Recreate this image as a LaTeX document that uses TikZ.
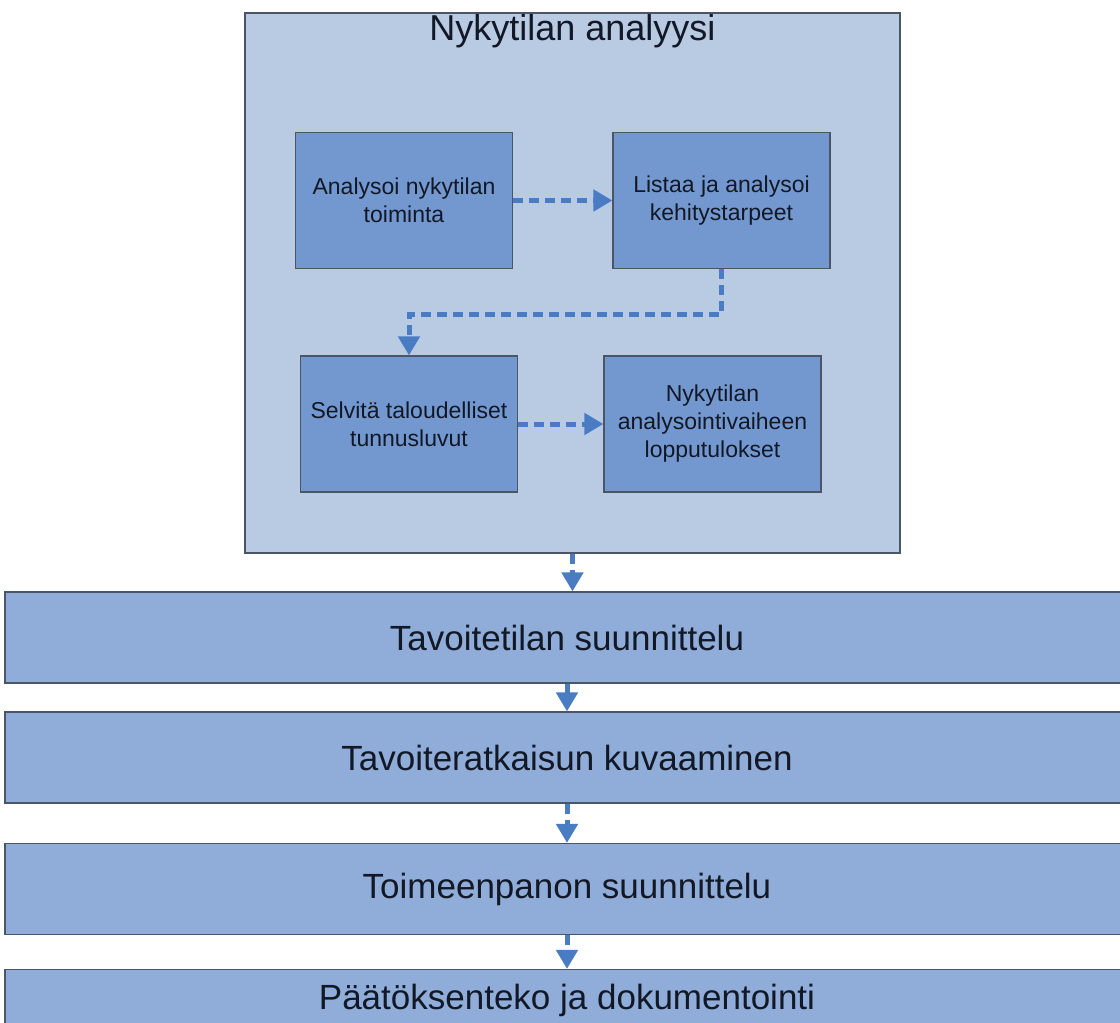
\documentclass[tikz,border=0pt]{standalone}
\usepackage{fontspec}
\setmainfont{Liberation Sans}
\usetikzlibrary{positioning,arrows.meta}

\definecolor{panelblue}{HTML}{B9CAE3}
\definecolor{taskblue}{HTML}{7398CF}
\definecolor{phaseblue}{HTML}{8FADD8}
\definecolor{flowblue}{HTML}{4A7CC4}
\definecolor{edgegray}{HTML}{4A5566}
\definecolor{inkdark}{HTML}{121826}

\begin{document}
\begin{tikzpicture}[x=1pt,y=-1pt,
	panel/.style={draw=edgegray,fill=panelblue,line width=1.2pt,minimum width=655pt,minimum height=540pt},
	task/.style={draw=edgegray,fill=taskblue,line width=1.2pt,minimum width=217pt,minimum height=136pt,
		align=center,text=inkdark,font=\fontsize{23}{28}\selectfont},
	phase/.style={draw=edgegray,fill=phaseblue,line width=1.2pt,minimum width=1124pt,minimum height=91pt,
		text=inkdark,font=\fontsize{35}{40}\selectfont},
	flow/.style={draw=flowblue,line width=5pt,dash pattern=on 10pt off 6pt,
		-{Triangle[width=21pt,length=19pt]}}]
	% kuvan rajat
	\useasboundingbox[fill=white] (0,0) rectangle (1120,1023);
	
	% nykytilan analyysi -kehys ja otsikko
	\node[panel] (cont) at (572.5,283) {};
	\node[anchor=north,inner sep=2pt,text=inkdark,font=\fontsize{36}{40}\selectfont] (title) at (cont.north) {Nykytilan analyysi};
	
	% kehyksen sisäiset tehtävät
	\node[task] (a) at (404,200.5) {Analysoi nykytilan\\toiminta};
	\node[task] (b) at (721.5,200.5) {Listaa ja analysoi\\kehitystarpeet};
	\node[task] (c) at (409,424) {Selvitä taloudelliset\\tunnusluvut};
	\node[task] (d) at (712.5,424) {Nykytilan\\analysointivaiheen\\lopputulokset};
	
	% vaiheet kehyksen alla, oikea reuna jää kuvan ulkopuolelle
	\node[phase] (p1) at (567,637.5) {Tavoitetilan suunnittelu};
	\node[phase] (p2) at (567,757.5) {Tavoiteratkaisun kuvaaminen};
	\node[phase] (p3) at (567,889) {Toimeenpanon suunnittelu};
	\node[phase,minimum height=61pt] (p4) at (567,1000) {Päätöksenteko ja dokumentointi};
	
	% nuolet
	\draw[flow] (a) -- (b);
	\draw[flow] (b.south) -- ++(0,45) -| (c.north);
	\draw[flow] (c) -- (d);
	\draw[flow] (cont.south) -- (cont.south |- p1.north);
	\draw[flow] (p1) -- (p2);
	\draw[flow] (p2) -- (p3);
	\draw[flow] (p3) -- (p4);
\end{tikzpicture}
\end{document}
